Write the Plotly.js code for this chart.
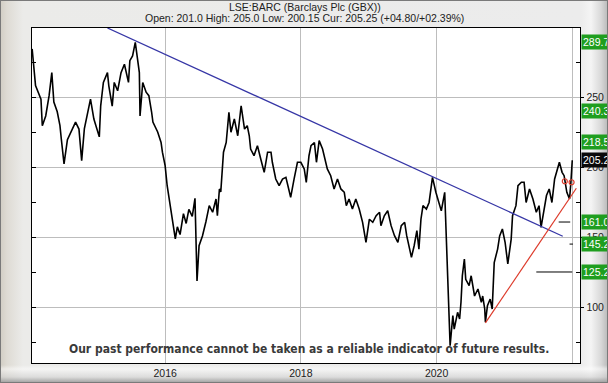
<!DOCTYPE html>
<html>
<head>
<meta charset="utf-8">
<script src="https://cdn.plot.ly/plotly-3.0.1.min.js"></script>
<style>
html,body{margin:0;padding:0;}
body{width:608px;height:383px;overflow:hidden;background:#7a7a7a;}
#frame{position:absolute;left:1px;top:1px;width:606px;height:381px;
background:
 linear-gradient(to bottom, rgba(0,0,0,0) 0px, rgba(0,0,0,0) 364px, rgba(255,255,255,0.5) 368px, rgba(210,210,210,0.6) 376px, rgba(160,160,160,0.9) 381px),
 linear-gradient(to right, #d3cfc6 0px, #dedbd4 6px, #ebebe9 22px, #ececec 580px, #f4f4f4 590px, #d8d8d8 600px, #bdbdbd 606px);}
#chart{position:absolute;left:-1px;top:-1px;width:608px;height:383px;}
</style>
</head>
<body>
<div id="frame"></div>
<div id="chart"></div>
<script>
// ---- data (decimal year, price GBX) ----
var years = [
2014.04,2014.09,2014.17,2014.19,2014.24,2014.29,2014.33,2014.36,2014.41,2014.45,2014.47,2014.49,2014.51,2014.56,2014.61,2014.68,2014.73,2014.77,2014.81,2014.85,2014.90,2014.95,
2015.00,2015.03,2015.05,2015.09,2015.15,2015.17,2015.22,2015.25,2015.30,2015.35,2015.40,2015.46,2015.48,2015.52,2015.56,2015.59,2015.62,2015.63,2015.67,2015.72,2015.76,2015.80,2015.82,2015.89,2015.94,2015.96,
2016.00,2016.03,2016.06,2016.09,2016.12,2016.15,2016.18,2016.22,2016.27,2016.31,2016.35,2016.40,2016.44,2016.47,2016.50,2016.55,2016.60,2016.65,2016.70,2016.75,2016.77,2016.80,2016.82,2016.84,2016.86,2016.90,2016.92,2016.94,2016.97,
2017.02,2017.07,2017.12,2017.17,2017.21,2017.24,2017.26,2017.31,2017.36,2017.41,2017.46,2017.51,2017.56,2017.58,2017.63,2017.68,2017.73,2017.78,2017.83,2017.85,2017.90,2017.95,
2018.00,2018.05,2018.08,2018.12,2018.15,2018.20,2018.23,2018.27,2018.32,2018.36,2018.39,2018.44,2018.49,2018.54,2018.59,2018.64,2018.67,2018.71,2018.76,2018.81,2018.86,2018.91,2018.94,2018.96,
2019.01,2019.06,2019.11,2019.16,2019.18,2019.23,2019.28,2019.33,2019.38,2019.43,2019.48,2019.53,2019.56,2019.60,2019.63,2019.67,2019.71,2019.74,2019.77,2019.80,2019.85,2019.89,2019.94,2019.99,
2020.04,2020.07,2020.12,2020.14,2020.16,2020.18,2020.20,2020.24,2020.26,2020.31,2020.34,2020.36,2020.38,2020.41,2020.43,2020.48,2020.51,2020.56,2020.61,2020.66,2020.68,2020.71,2020.72,2020.75,2020.79,2020.82,2020.85,2020.90,2020.93,2020.97,
2021.01,2021.05,2021.10,2021.12,2021.17,2021.20,2021.25,2021.29,2021.32,2021.37,2021.42,2021.47,2021.51,2021.54,2021.58,2021.62,2021.66,2021.70,2021.74,2021.77,2021.81,2021.85,2021.88,2021.92,2021.96,2021.98,2022.00];
var prices = [
285,258.7,249,230,237,251.5,268,247,240,230,220.5,213,202.6,220,225,232.6,227.6,205,228,237,249,234.8,
225.5,222,244,261,268,258.6,244,261,255,268,274,261,276.6,280,289.7,280,268,237,261,254,251.5,240,232.6,225.5,218,211,
201.4,187,177.5,166.7,158,149,157.6,152,167,160,170,165,178,118.7,144,151,161,172.7,168,177.5,165.5,184.7,182.5,194,211,218,230,239.6,225.3,
234.8,222.8,244.3,227.6,230,222.8,213.3,208.5,215.7,206,196.6,211,211,203.8,191.8,187,191.8,193,182.3,178.7,191.8,203.8,
203.8,199,189.4,208.5,215.7,218,203.8,219.3,213.3,203.8,199,194.2,184.7,191.8,184.7,182.3,172.7,177.5,170.3,177.5,170.3,160.8,151.2,146.5,
163,160.8,165.5,168,158.4,165.5,169.1,158.4,151.2,146.5,158.4,160.8,151.2,141.6,135.7,144,154.8,141.6,163,172.7,170.3,175,193,182.3,
175,169,182.3,151,130,98.7,72.4,94,84.3,96.3,91.5,103.5,122.5,134.5,120,115.4,122.5,108,113,103.5,108,98.7,89.2,101,105.8,98.7,132,141.6,151,156,
146.5,131,148.8,165.5,172.7,187,189.5,189.5,175,184.7,177.5,168,172.7,157.2,170.3,180,184.7,175,191.8,196.6,203.8,196.6,194.2,182.3,177.5,189.5,205.25];

// trend lines
var blueX = [2015.15, 2021.86];
var blueY = [300, 150.8];
var redX = [2020.72, 2022.06];
var redY = [88.7, 185.2];

// target levels (horizontal markers)
var targetY  = [161.0, 145.2, 125.2];
var targetX0 = [2021.80, 2021.96, 2021.47];
var targetX1 = [2021.97, 2022.01, 2022.00];

// small red marks
var markX = [2021.89, 2021.99];
var markY = [190.2, 189.5];

// right-hand labels
var labelVals  = [289.7, 240.3, 218.5, 205.25, 161.0, 145.2, 125.2];
var labelText  = ['289.7','240.3','218.5','205.25','161.0','145.2','125.2'];
var labelKind  = ['g','g','g','k','g','g','g'];

var xTicks = [2016, 2018, 2020, 2022];
var xTickText = ['2016','2018','2020',''];
var yTicks = [100, 150, 200, 250];
var yMinor = [75, 125, 175, 225, 275];

var titleLine1 = 'LSE:BARC (Barclays Plc (GBX))';
var titleLine2 = 'Open: 201.0 High: 205.0 Low: 200.15 Cur: 205.25 (+04.80/+02.39%)';
var disclaimer = 'Our past performance cannot be taken as a reliable indicator of future results.';

// ---- traces ----
var traces = [];
traces.push({x: years, y: prices, type: 'scatter', mode: 'lines',
  line: {color: '#000000', width: 1.6}, hoverinfo: 'skip'});
traces.push({x: blueX, y: blueY, type: 'scatter', mode: 'lines',
  line: {color: '#3636a6', width: 1.3}, hoverinfo: 'skip'});
traces.push({x: redX, y: redY, type: 'scatter', mode: 'lines',
  line: {color: '#dd3a2a', width: 1.2}, hoverinfo: 'skip'});
for (var i = 0; i < targetY.length; i++) {
  traces.push({x: [targetX0[i], targetX1[i]], y: [targetY[i], targetY[i]], type: 'scatter', mode: 'lines',
    line: {color: '#000000', width: 1}, hoverinfo: 'skip'});
}
traces.push({x: markX, y: markY, type: 'scatter', mode: 'markers',
  marker: {symbol: 'circle-open', size: 5, color: '#dd3a2a', line: {width: 1.2}}, hoverinfo: 'skip'});
traces.push({x: [], y: [], yaxis: 'y2', type: 'scatter', mode: 'lines', hoverinfo: 'skip'});

var annotations = [
  {text: titleLine1, xref: 'paper', yref: 'paper', x: 0.498, y: 1.062, xanchor: 'center', yanchor: 'middle',
   showarrow: false, font: {family: 'Liberation Sans, Arial, sans-serif', size: 10.5, color: '#222'}},
  {text: titleLine2, xref: 'paper', yref: 'paper', x: 0.498, y: 1.030, xanchor: 'center', yanchor: 'middle',
   showarrow: false, font: {family: 'Liberation Sans, Arial, sans-serif', size: 10.5, color: '#222'}},
  {text: '<b>' + disclaimer + '</b>', xref: 'paper', yref: 'paper', x: 0.505, y: 0.042, xanchor: 'center', yanchor: 'middle',
   showarrow: false, font: {family: 'DejaVu Sans Condensed, Liberation Sans Narrow, sans-serif', size: 12.0, color: '#3a3a3a'}}
];
for (var j = 0; j < labelVals.length; j++) {
  annotations.push({text: labelText[j], xref: 'paper', yref: 'y', x: 1, y: labelVals[j],
    xanchor: 'left', yanchor: 'middle', xshift: 1, showarrow: false, borderpad: 1,
    bgcolor: labelKind[j] === 'k' ? '#0a0a0a' : '#1f9e1f',
    font: {family: 'Liberation Sans, Arial, sans-serif', size: 10.5, color: '#ffffff'}});
}

var layout = {
  width: 608, height: 383,
  margin: {l: 33, r: 27, t: 29, b: 19, pad: 0},
  paper_bgcolor: 'rgba(0,0,0,0)',
  plot_bgcolor: '#ffffff',
  showlegend: false,
  xaxis: {type: 'linear', range: [2014.038, 2022.114], tickmode: 'array', tickvals: xTicks, ticktext: xTickText,
    showgrid: true, gridcolor: '#bdbdbd', gridwidth: 1, zeroline: false, ticks: '',
    showline: true, linecolor: '#000', linewidth: 1.3, mirror: true,
    tickfont: {family: 'Liberation Sans, Arial, sans-serif', size: 10.5, color: '#222'}},
  yaxis: {range: [60, 300], side: 'right', tickmode: 'array', tickvals: yTicks,
    showgrid: true, gridcolor: '#bdbdbd', gridwidth: 1, zeroline: false,
    ticks: 'outside', ticklen: 3, tickcolor: '#000',
    minor: {tickmode: 'array', tickvals: yMinor, ticks: 'inside', ticklen: 4, tickcolor: '#000', showgrid: false},
    showline: true, linecolor: '#000', linewidth: 1.3, mirror: true,
    tickfont: {family: 'Liberation Sans, Arial, sans-serif', size: 10.5, color: '#222'}},
  yaxis2: {range: [60, 300], overlaying: 'y', side: 'left', tickmode: 'array', tickvals: yTicks.concat(yMinor),
    ticks: 'inside', ticklen: 4, tickcolor: '#000', showticklabels: false, showgrid: false, zeroline: false, showline: false},
  annotations: annotations
};

Plotly.newPlot('chart', traces, layout, {displayModeBar: false, staticPlot: true});
</script>
</body>
</html>
